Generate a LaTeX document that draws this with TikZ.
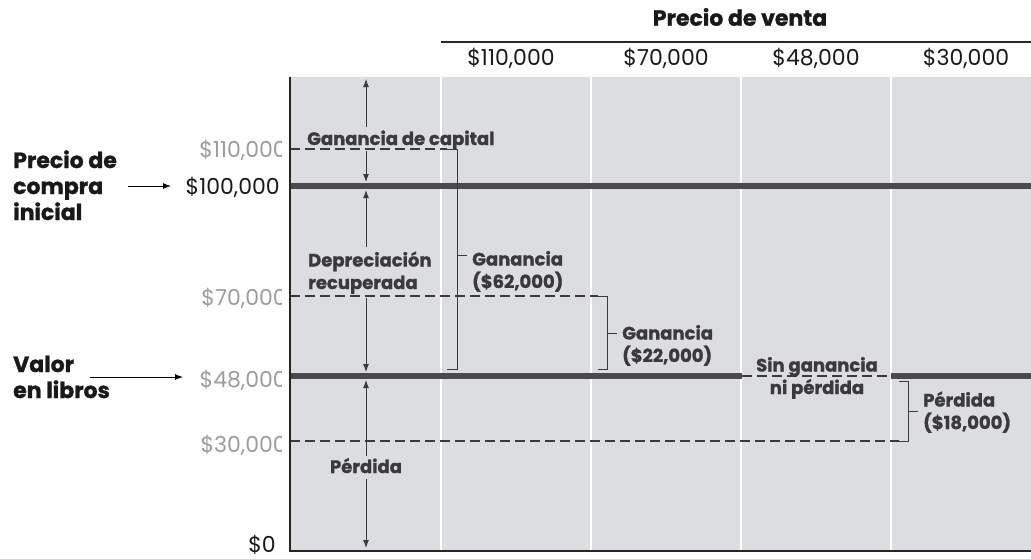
\documentclass[tikz,border=0pt]{standalone}
\usepackage{fontspec}
\setmainfont{Poppins}[BoldFeatures={FakeBold=1.2}]
\usetikzlibrary{arrows.meta}
\definecolor{bg}{HTML}{DCDDDF}
\definecolor{ink}{HTML}{3A3A3C}
\definecolor{thk}{HTML}{4A4A4C}
\definecolor{gnumc}{HTML}{9C9C9C}
\begin{document}
\begin{tikzpicture}[x=1pt,y=-1pt,
  lbl/.style={font=\fontsize{18}{22.5}\selectfont\bfseries, text=ink, inner sep=0pt, align=left},
  side/.style={font=\fontsize{22}{26}\selectfont\bfseries, text=black!90, inner sep=0pt, align=left},
  hdr/.style={font=\fontsize{22}{26}\selectfont\bfseries, text=black!90, inner sep=0pt},
  num/.style={font=\fontsize{22}{26}\selectfont, text=black!90, inner sep=0pt},
  gnum/.style={font=\fontsize{22}{26}\selectfont, text=gnumc, inner sep=0pt},
  mainline/.style={line width=6pt, thk},
  dline/.style={dash pattern=on 10pt off 5pt, line width=1.2pt, ink},
  brk/.style={line width=1pt, ink},
  dimarrow/.style={line width=1pt, ink, -{Latex[length=8pt,width=6pt]}},
  ptarrow/.style={line width=1pt, black, -{Latex[length=8pt,width=6pt]}},
]
\useasboundingbox (0,0) rectangle (1031,558);
% background and columns
\fill[bg] (290,77) rectangle (1031,551);
\foreach \x in {441,591,741,891} \draw[white, line width=2pt] (\x,77) -- (\x,551);
% header
\node[hdr] (hv) at (740,17) {Precio de venta};
\coordinate (hl1) at (441,42);
\coordinate (hl2) at (1031,42);
\draw[line width=1.5pt, black!85] (hl1) -- (hl2);
\node[num] (c1) at (511,58) {\$110,000};
\node[num] (c2) at (666,58) {\$70,000};
\node[num] (c3) at (816,58) {\$48,000};
\node[num] (c4) at (966,58) {\$30,000};
% lines
\draw[mainline] (290,186) -- (1031,186);
\draw[mainline] (290,376) -- (742,376);
\draw[mainline] (891,376) -- (1031,376);
\draw[dline] (742,376) -- (891,376);
\draw[dline] (290,149) -- (447,149);
\draw[brk] (447,149) -- (457,149) -- (457,369) -- (447,369);
\draw[brk] (457,255) -- (467,255);
\draw[dline] (290,296) -- (598,296);
\draw[brk] (598,296) -- (607,296) -- (607,369) -- (598,369);
\draw[brk] (607,333) -- (617,333);
\draw[dline] (290,441) -- (899,441);
\draw[brk] (899,381) -- (908,381) -- (908,441) -- (899,441);
\draw[brk] (908,411) -- (918,411);
% borders
\draw[line width=1.8pt, black!85] (290,77) -- (290,551) -- (1031,551);
% labels in chart
\node[lbl, anchor=base west] (gc) at (307,145) {Ganancia de capital};
\node[lbl, anchor=base west] (dr) at (308,289) {Depreciación\\recuperada};
\node[lbl, anchor=base west] (g62) at (472,288) {Ganancia\\(\$62,000)};
\node[lbl, anchor=base west] (g22) at (622,362) {Ganancia\\(\$22,000)};
\node[lbl, anchor=base, align=center] (sg) at (817,394) {Sin ganancia\\ni pérdida};
\node[lbl, anchor=base west] (p18) at (923,429) {Pérdida\\(\$18,000)};
\node[lbl, anchor=base] (pl) at (366,473) {Pérdida};
% dimension arrows
\coordinate (a1s) at (366,127); \coordinate (a1e) at (366,79);
\coordinate (a2s) at (366,151); \coordinate (a2e) at (366,182);
\coordinate (a3s) at (366,247); \coordinate (a3e) at (366,190);
\coordinate (a4s) at (366,298); \coordinate (a4e) at (366,372);
\coordinate (a5s) at (366,456); \coordinate (a5e) at (366,380);
\coordinate (a6s) at (366,479); \coordinate (a6e) at (366,548);
\draw[dimarrow] (a1s) -- (a1e);
\draw[dimarrow] (a2s) -- (a2e);
\draw[dimarrow] (a3s) -- (a3e);
\draw[dimarrow] (a4s) -- (a4e);
\draw[dimarrow] (a5s) -- (a5e);
\draw[dimarrow] (a6s) -- (a6e);
% y axis labels
\node[num, anchor=base east] (y100) at (280,194) {\$100,000};
\node[num, anchor=base east] (y0) at (276,552) {\$0};
\begin{scope}
\clip (150,130) rectangle (281,470);
\node[gnum, anchor=base east] (y110) at (287,157) {\$110,000};
\node[gnum, anchor=base east] (y70) at (287,305) {\$70,000};
\node[gnum, anchor=base east] (y48) at (287,387) {\$48,000};
\node[gnum, anchor=base east] (y30) at (287,452) {\$30,000};
\end{scope}
% side labels
\node[side, anchor=base west] (pci) at (13,220) {Precio de\\compra\\inicial};
\node[side, anchor=base west] (vl) at (13,398) {Valor\\en libros};
\coordinate (pa) at (128,186);
\coordinate (pb) at (171,186);
\draw[ptarrow] (pa) -- (pb);
\coordinate (va) at (90,377);
\coordinate (vb) at (183,377);
\draw[ptarrow] (va) -- (vb);
\end{tikzpicture}
\end{document}
